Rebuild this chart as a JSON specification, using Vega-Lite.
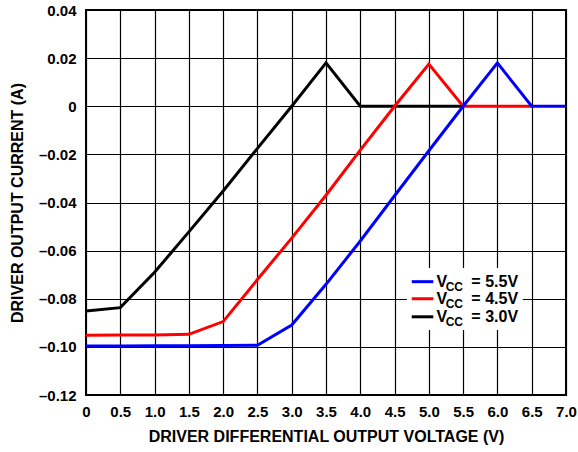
{
  "$schema": "https://vega.github.io/schema/vega-lite/v6.json",
  "width": 480,
  "height": 385,
  "autosize": {"type": "none"},
  "padding": {"left": 86, "top": 10, "right": 12, "bottom": 57},
  "background": "white",
  "config": {
    "font": "Liberation Sans",
    "view": {"stroke": "#000", "strokeWidth": 2},
    "axis": {
      "grid": true, "gridColor": "#000", "gridOpacity": 1, "gridWidth": 1.2,
      "domain": false, "ticks": false, "labelOverlap": false, "labelFlush": false,
      "labelFont": "Liberation Sans", "labelFontWeight": "bold", "labelFontSize": 15, "labelColor": "#000",
      "titleFont": "Liberation Sans", "titleFontWeight": "bold", "titleFontSize": 16, "titleColor": "#000"
    }
  },
  "datasets": {
    "curves": [
      {"series": "3.0", "v": 0.0, "i": -0.0851},
      {"series": "3.0", "v": 0.5, "i": -0.0837},
      {"series": "3.0", "v": 1.0, "i": -0.0690},
      {"series": "3.0", "v": 1.5, "i": -0.0522},
      {"series": "3.0", "v": 2.0, "i": -0.0352},
      {"series": "3.0", "v": 2.5, "i": -0.0175},
      {"series": "3.0", "v": 3.0, "i": 0.0},
      {"series": "3.0", "v": 3.5, "i": 0.018},
      {"series": "3.0", "v": 4.0, "i": 0.0},
      {"series": "3.0", "v": 4.5, "i": 0.0},
      {"series": "3.0", "v": 5.0, "i": 0.0},
      {"series": "3.0", "v": 5.5, "i": 0.0},
      {"series": "4.5", "v": 0.0, "i": -0.0952},
      {"series": "4.5", "v": 0.5, "i": -0.0951},
      {"series": "4.5", "v": 1.0, "i": -0.0951},
      {"series": "4.5", "v": 1.5, "i": -0.0948},
      {"series": "4.5", "v": 2.0, "i": -0.0895},
      {"series": "4.5", "v": 2.5, "i": -0.0720},
      {"series": "4.5", "v": 3.0, "i": -0.0548},
      {"series": "4.5", "v": 3.5, "i": -0.0370},
      {"series": "4.5", "v": 4.0, "i": -0.0182},
      {"series": "4.5", "v": 4.5, "i": 0.0},
      {"series": "4.5", "v": 5.0, "i": 0.0175},
      {"series": "4.5", "v": 5.5, "i": 0.0},
      {"series": "4.5", "v": 6.0, "i": 0.0},
      {"series": "4.5", "v": 6.5, "i": 0.0},
      {"series": "5.5", "v": 0.0, "i": -0.0996},
      {"series": "5.5", "v": 0.5, "i": -0.0996},
      {"series": "5.5", "v": 1.0, "i": -0.0995},
      {"series": "5.5", "v": 1.5, "i": -0.0995},
      {"series": "5.5", "v": 2.0, "i": -0.0994},
      {"series": "5.5", "v": 2.5, "i": -0.0993},
      {"series": "5.5", "v": 3.0, "i": -0.0909},
      {"series": "5.5", "v": 3.5, "i": -0.0740},
      {"series": "5.5", "v": 4.0, "i": -0.0560},
      {"series": "5.5", "v": 4.5, "i": -0.0372},
      {"series": "5.5", "v": 5.0, "i": -0.0185},
      {"series": "5.5", "v": 5.5, "i": 0.0},
      {"series": "5.5", "v": 6.0, "i": 0.018},
      {"series": "5.5", "v": 6.5, "i": 0.0},
      {"series": "5.5", "v": 7.0, "i": 0.0}
    ],
    "legend": [
      {"series": "5.5", "label": "= 5.5V", "ly": -0.0729},
      {"series": "4.5", "label": "= 4.5V", "ly": -0.0800},
      {"series": "3.0", "label": "= 3.0V", "ly": -0.0875}
    ]
  },
  "layer": [
    {
      "data": {"name": "curves"},
      "mark": {"type": "line", "strokeWidth": 3, "clip": true},
      "encoding": {
        "x": {
          "field": "v", "type": "quantitative",
          "scale": {"domain": [0, 7], "nice": false, "zero": false},
          "axis": {"values": [0,0.5,1,1.5,2,2.5,3,3.5,4,4.5,5,5.5,6,6.5,7], "tickCount": 30, "labelExpr": "datum.value == 0 ? '0' : format(datum.value, '.1f')", "labelPadding": 9, "titlePadding": 9, "title": "DRIVER DIFFERENTIAL OUTPUT VOLTAGE (V)"}
        },
        "y": {
          "field": "i", "type": "quantitative",
          "scale": {"domain": [-0.12, 0.04], "nice": false, "zero": false},
          "axis": {"values": [-0.12,-0.1,-0.08,-0.06,-0.04,-0.02,0,0.02,0.04], "tickCount": 30, "labelExpr": "datum.value == 0 ? '0' : replace(format(datum.value, '.2f'), /[-\u2212]/, '\u2013')", "labelPadding": 10, "titlePadding": 13, "title": "DRIVER OUTPUT CURRENT (A)"}
        },
        "color": {
          "field": "series", "type": "nominal",
          "scale": {"domain": ["3.0", "4.5", "5.5"], "range": ["#000000", "#ff0000", "#0000ff"]},
          "legend": null
        },
        "order": {"field": "v", "type": "quantitative"}
      }
    },
    {
      "data": {"values": [{"x1": 4.68, "x2": 6.37, "y1": -0.0672, "y2": -0.0930}]},
      "mark": {"type": "rect", "fill": "white"},
      "encoding": {
        "x": {"field": "x1", "type": "quantitative"},
        "x2": {"field": "x2"},
        "y": {"field": "y1", "type": "quantitative"},
        "y2": {"field": "y2"}
      }
    },
    {
      "data": {"name": "legend"},
      "mark": {"type": "rule", "strokeWidth": 3},
      "encoding": {
        "x": {"datum": 4.75, "type": "quantitative"},
        "x2": {"datum": 5.065},
        "y": {"field": "ly", "type": "quantitative"},
        "color": {"field": "series", "type": "nominal", "legend": null}
      }
    },
    {
      "data": {"name": "legend"},
      "mark": {"type": "text", "align": "left", "baseline": "middle", "fontWeight": "bold", "fontSize": 16, "font": "Liberation Sans", "color": "#000"},
      "encoding": {
        "x": {"datum": 5.11, "type": "quantitative"},
        "y": {"field": "ly", "type": "quantitative"},
        "text": {"value": "V"}
      }
    },
    {
      "data": {"name": "legend"},
      "mark": {"type": "text", "align": "left", "baseline": "middle", "fontWeight": "bold", "fontSize": 12, "font": "Liberation Sans", "color": "#000", "dy": 5},
      "encoding": {
        "x": {"datum": 5.245, "type": "quantitative"},
        "y": {"field": "ly", "type": "quantitative"},
        "text": {"value": "CC"}
      }
    },
    {
      "data": {"name": "legend"},
      "mark": {"type": "text", "align": "left", "baseline": "middle", "fontWeight": "bold", "fontSize": 16, "font": "Liberation Sans", "color": "#000"},
      "encoding": {
        "x": {"datum": 5.62, "type": "quantitative"},
        "y": {"field": "ly", "type": "quantitative"},
        "text": {"field": "label"}
      }
    }
  ]
}
